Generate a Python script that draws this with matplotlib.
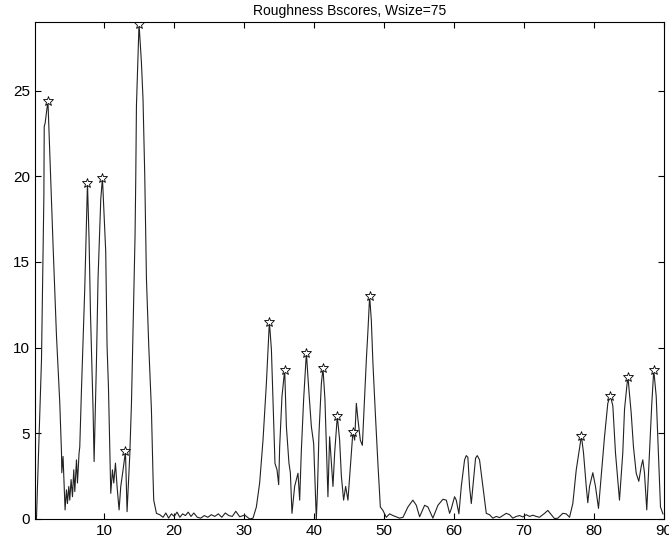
import matplotlib
matplotlib.use('Agg')
import matplotlib.pyplot as plt

plt.rcParams['font.family'] = ['Liberation Sans', 'DejaVu Sans']

# roughness score curve
pos = [0.31, 1.03, 1.37, 1.42, 1.55, 1.95, 2.21, 2.69, 3.17, 3.64, 3.89, 3.93, 4.11, 4.4,
       4.6, 4.74, 4.93, 5.07, 5.26, 5.46, 5.64, 5.79, 6.03, 6.17, 6.4, 6.5, 6.74,
       7.21, 7.6, 7.83, 8.03, 8.4, 8.55, 8.89, 9.11, 9.5, 9.74, 10.21, 10.4, 10.6, 10.93,
       11.17, 11.36, 11.6, 11.83, 12.12, 12.36, 12.69, 13.03, 13.26, 13.64, 13.89, 14.11,
       14.4, 14.5, 14.6, 14.97, 15.31, 15.54, 15.79, 16.03, 16.36, 16.74, 16.97, 17.07,
       17.46, 17.93, 18.4, 18.8, 19.2, 19.6, 20.0, 20.4, 20.8, 21.2, 21.6, 22.0, 22.4,
       22.8, 23.3, 23.8, 24.3, 24.8, 25.3, 25.8, 26.3, 26.8, 27.3, 27.8, 28.3, 28.8, 29.36,
       30.07, 30.79, 31.26, 31.74, 32.21, 32.69, 33.17, 33.6, 33.89, 34.11, 34.4, 34.69,
       34.93, 35.07, 35.4, 35.79, 36.03, 36.4, 36.6, 36.83, 37.21, 37.69, 37.93, 38.17,
       38.5, 38.89, 39.26, 39.6, 39.93, 40.21, 40.31, 40.46, 40.69, 41.03, 41.26, 41.54,
       41.83, 41.97, 42.21, 42.46, 42.69, 42.93, 43.31, 43.64, 43.89, 44.21, 44.5, 44.83,
       45.17, 45.54, 45.79, 46.03, 46.26, 46.6, 46.89, 47.21, 47.46, 47.69, 47.93, 48.17,
       48.4, 48.74, 49.11, 49.46, 49.83, 50.31, 50.79, 51.26, 52.21, 52.7, 53.4, 54.11,
       54.6, 55.07, 55.79, 56.26, 56.97, 57.69, 58.4, 58.89, 59.36, 59.6, 60.07, 60.31,
       60.69, 61.03, 61.5, 61.74, 61.97, 62.21, 62.46, 62.69, 63.07, 63.31, 63.64, 64.11,
       64.6, 65.07, 65.54, 66.03, 66.5, 66.97, 67.46, 67.93, 68.4, 68.89, 69.36, 69.83,
       70.31, 70.79, 71.26, 71.74, 72.21, 72.93, 73.4, 73.89, 74.36, 74.83, 75.54, 76.03,
       76.5, 76.97, 77.46, 77.83, 78.2, 78.5, 78.89, 79.11, 79.36, 79.83, 80.21, 80.64,
       81.03, 81.5, 81.97, 82.33, 82.69, 83.07, 83.64, 84.11, 84.36, 84.69, 84.85, 85.31,
       85.64, 86.03, 86.4, 86.74, 86.97, 87.21, 87.54, 87.93, 88.26, 88.54, 88.89, 89.21,
       89.5, 89.85]
score = [0.0, 9.3, 18.85, 22.9, 23.1, 24.4, 21.4, 15.9, 10.7, 6.8, 3.85, 2.7, 3.65, 0.53,
         1.7, 0.9, 1.9, 1.1, 2.3, 1.3, 2.87, 1.6, 3.45, 2.1, 3.85, 4.2, 7.5,
         13.4, 19.6, 16.3, 12.0, 6.4, 3.35, 9.3, 14.0, 18.65, 19.9, 15.6, 10.1, 7.7, 1.5,
         2.87, 2.1, 3.26, 1.9, 0.53, 1.9, 2.87, 3.94, 0.43, 3.65, 6.77, 11.1,
         16.5, 19.8, 24.1, 28.9, 26.65, 24.5, 20.0, 14.0, 10.1, 6.4, 2.5, 1.1,
         0.33, 0.25, 0.1, 0.35, 0.05, 0.3, 0.15, 0.4, 0.1, 0.3, 0.2, 0.4, 0.15,
         0.35, 0.1, 0.05, 0.2, 0.1, 0.25, 0.15, 0.3, 0.1, 0.35, 0.2, 0.15, 0.45, 0.13,
         0.23, 0.0, 0.05, 0.7, 2.1, 4.6, 7.9, 11.5, 9.9, 7.0, 3.25, 2.87,
         2.0, 4.2, 7.15, 8.7, 5.4, 3.25, 2.7, 0.33, 1.9, 2.67, 1.1, 4.0,
         7.0, 9.7, 7.35, 5.4, 4.4, 1.1, 0.0, 1.5, 5.0, 7.9, 8.8, 7.0,
         3.05, 1.3, 4.8, 3.25, 1.9, 3.85, 6.0, 4.6, 2.5, 1.1, 1.9, 1.1,
         3.05, 5.1, 4.6, 6.75, 5.8, 4.6, 4.3, 7.15, 9.3, 11.0, 13.0, 11.6,
         9.1, 6.2, 3.25, 0.7, 0.5, 0.1, 0.3, 0.2, 0.05, 0.1, 0.7, 1.1,
         0.8, 0.13, 0.8, 0.7, 0.05, 0.8, 1.15, 1.1, 0.33, 0.6, 1.3, 1.1,
         0.3, 1.9, 3.45, 3.7, 3.6, 1.9, 0.9, 1.9, 3.55, 3.7, 3.45, 1.9,
         0.33, 0.25, 0.05, 0.15, 0.08, 0.2, 0.33, 0.25, 0.05, 0.15, 0.2, 0.12,
         0.25, 0.15, 0.22, 0.15, 0.1, 0.33, 0.5, 0.25, 0.02, 0.05, 0.33, 0.3,
         0.1, 0.9, 2.87, 3.85, 4.85, 3.85, 1.9, 0.95, 1.9, 2.7, 1.9, 0.62,
         2.5, 4.8, 6.75, 7.2, 6.6, 3.85, 1.1, 3.85, 6.4, 7.75, 8.3, 6.2,
         4.2, 2.67, 2.2, 3.05, 3.45, 2.7, 0.53, 3.85, 6.75, 8.7, 7.15, 3.85,
         0.7, 0.3]

# detected peaks (star markers)
peak_pos = [1.95, 7.6, 9.74, 13.03, 14.97, 33.6, 35.79, 38.89, 41.26, 43.31, 45.54,
            47.93, 78.2, 82.33, 84.85, 88.54]
peak_val = [24.4, 19.6, 19.9, 3.94, 28.9, 11.5, 8.7, 9.7, 8.8, 6.0, 5.1,
            13.0, 4.85, 7.2, 8.3, 8.7]

fig = plt.figure(figsize=(6.69, 5.47), dpi=100)
ax = fig.add_axes([0.0523, 0.0512, 0.9402, 0.9086])
ax.plot(pos, score, color='#222222', lw=0.8)
ax.plot(peak_pos, peak_val, ls='none', marker='*', ms=7, mfc='white', mec='black', mew=0.6)

ax.set_xlim(0.1, 90)
ax.set_ylim(0, 29)
ax.set_xticks(range(10, 91, 10))
ax.set_yticks(range(0, 26, 5))
ax.tick_params(direction='in', top=True, right=True, labelsize=11, length=4)
ax.set_title('Roughness Bscores, Wsize=75', fontsize=10, pad=5)

plt.savefig('out.png', dpi=100)
